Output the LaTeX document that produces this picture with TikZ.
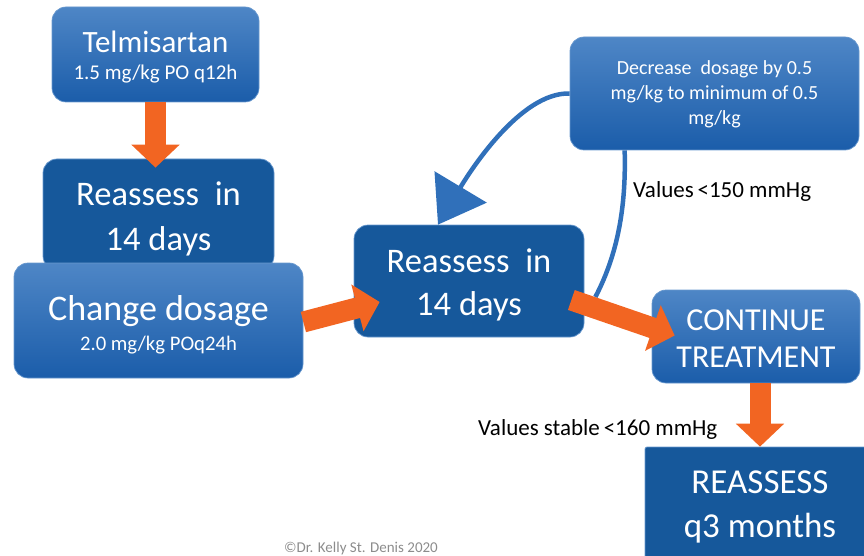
\documentclass[tikz,border=0pt]{standalone}
\usepackage{fontspec}
\setmainfont{Carlito}
\usepackage{xcolor}
\usepackage{tikz}
\usetikzlibrary{arrows.meta,positioning,calc}

\definecolor{lighttop}{RGB}{78,134,198}
\definecolor{lightbot}{RGB}{27,93,170}
\definecolor{darkfill}{RGB}{22,88,155}
\definecolor{edgeblue}{RGB}{104,152,206}
\definecolor{flowred}{RGB}{242,101,34}
\definecolor{loopblue}{RGB}{48,112,186}

\begin{document}
\begin{tikzpicture}[
  x=1pt, y=-1pt,
  lightbox/.style={rectangle, rounded corners=14pt, top color=lighttop,
    bottom color=lightbot, draw=edgeblue, line width=0.7pt, text=white,
    align=center, inner sep=0pt},
  darkbox/.style={rectangle, rounded corners=14pt, fill=darkfill,
    draw=edgeblue, line width=0.7pt, text=white, align=center, inner sep=0pt},
  flow/.style={draw=flowred, line width=21pt,
    -{Triangle[length=23pt,width=47pt]}},
  loop/.style={draw=loopblue, line width=4.5pt},
  note/.style={font=\fontsize{23}{27}\selectfont, anchor=base west, inner sep=0pt}
]
  \useasboundingbox (0,0) rectangle (864,556);

  \node[lightbox, minimum width=207pt, minimum height=95pt, text height=55.5pt,
    text depth=4.5pt, font=\fontsize{31}{27}\selectfont] (telmi) at (155.5,54.5)
    {Telmisartan\\ {\fontsize{21}{24}\selectfont 1.5 mg/kg PO q12h}};
  \node[darkbox, minimum width=231pt, minimum height=111pt, text height=78pt,
    text depth=7pt, font=\fontsize{34.5}{45}\selectfont] (re1) at (158.5,214.5)
    {Reassess\ \ in\\ 14 days};
  \node[lightbox, minimum width=289pt, minimum height=115pt, text height=63.5pt,
    text depth=4.5pt, font=\fontsize{36}{30}\selectfont] (chg) at (158.5,320.5)
    {Change dosage\\ {\fontsize{20.7}{24}\selectfont 2.0 mg/kg POq24h}};
  \node[darkbox, minimum width=230pt, minimum height=112pt, text height=75pt,
    text depth=7pt, font=\fontsize{34.5}{43}\selectfont] (re2) at (469,281)
    {Reassess\ \ in\\ 14 days};
  \node[lightbox, minimum width=289pt, minimum height=113pt, text height=67.5pt,
    text depth=4.5pt, font=\fontsize{20}{25}\selectfont] (dec) at (714.5,93.5)
    {Decrease\ \ dosage by 0.5\\ mg/kg to minimum of 0.5\\ mg/kg};
  \node[lightbox, minimum width=208pt, minimum height=93pt, text height=61pt,
    text depth=0pt, font=\fontsize{32}{37}\selectfont] (cont) at (756,336.5)
    {CONTINUE\\ TREATMENT};
  \node[darkbox, rounded corners=2pt, minimum width=230pt, minimum height=115pt,
    text height=72pt, text depth=7pt, font=\fontsize{35}{44}\selectfont] (reas) at (760,504.5)
    {REASSESS\\ q3 months};

  \coordinate (loopstart) at ($(dec.south west)+(55,0)$);
  \coordinate (loopend) at ($(re2.east)+(11,16)$);

  \draw[loop, -{Triangle[length=44pt,width=60pt]}] (dec.west)
    .. controls (520,92) and (469,173) .. ($(re2.north)+(-31,0)$);
  \draw[loop] (loopstart) .. controls (626,200) and (620,250) .. (loopend);

  \draw[flow, shorten >=-9pt] (telmi.south) -- (telmi.south |- re1.north);
  \draw[flow] ($(chg.east)+(0,1.5)$) -- ($(re2.west)+(26,21)$);
  \draw[flow] ($(re2.east)+(-13,19)$) -- ($(cont.west)+(23,-1)$);
  \draw[flow] (reas.north |- cont.south) -- (reas.north);

  \node[note] (lowlbl) at (633,197) {Values\,{<}150 mmHg};
  \node[note] (stablelbl) at (478,435) {Values stable\,{<}160 mmHg};
  \node[font=\fontsize{15}{18}\selectfont, text=black!45, anchor=base, inner sep=0pt]
    (credit) at (361,552) {©Dr. Kelly St. Denis 2020};
\end{tikzpicture}
\end{document}
